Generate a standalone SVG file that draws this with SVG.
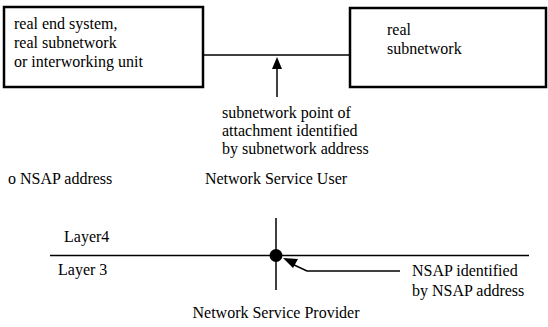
<svg xmlns="http://www.w3.org/2000/svg" width="548" height="327" viewBox="0 0 548 327">
<style>
.t{font-family:'Liberation Serif','DejaVu Serif','Times New Roman',serif;font-size:16px;fill:#000}
.box{fill:#fff;stroke:#000;stroke-width:2.5}
.ln{stroke:#000;stroke-width:1.5;fill:none}
</style>
<rect width="548" height="327" fill="#fff"/>
<g id="connectors">
<line class="ln" x1="203" y1="55" x2="350" y2="55"/>
<line class="ln" x1="277" y1="97" x2="277" y2="68"/>
<path d="M277,57 L282,69 L272,69 z" fill="#000"/>
<line class="ln" x1="50" y1="255.5" x2="529" y2="255.5"/>
<line class="ln" x1="276" y1="218" x2="276" y2="290"/>
<polyline class="ln" points="400,271 307,271 292,264"/>
<path d="M283,258 L298,259 L293,268 z" fill="#000"/>
</g>
<g class="t" font-family="Liberation Serif, DejaVu Serif, serif" font-size="16">
<g id="end-system">
<rect class="box" x="4" y="7" width="199" height="80"/>
<text x="14" y="29">real end system,</text>
<text x="14" y="48">real subnetwork</text>
<text x="14" y="67">or interworking unit</text>
</g>
<g id="real-subnetwork">
<rect class="box" x="350" y="8" width="196" height="79"/>
<text x="387" y="35">real</text>
<text x="387" y="54">subnetwork</text>
</g>
<g id="snpa-label">
<text x="222" y="118">subnetwork point of</text>
<text x="222" y="136">attachment identified</text>
<text x="222" y="154">by subnetwork address</text>
</g>
<g id="nsap-legend">
<text x="8" y="184">o NSAP address</text>
</g>
<g id="ns-user">
<text x="276" y="184" text-anchor="middle">Network Service User</text>
</g>
<g id="layers">
<text x="64" y="242">Layer4</text>
<text x="58" y="275">Layer 3</text>
</g>
<g id="nsap-point">
<circle cx="276" cy="255.5" r="6.5" fill="#000"/>
</g>
<g id="nsap-label">
<text x="412" y="276">NSAP identified</text>
<text x="412" y="296">by NSAP address</text>
</g>
<g id="ns-provider">
<text x="276" y="318" text-anchor="middle">Network Service Provider</text>
</g>
</g>
</svg>
